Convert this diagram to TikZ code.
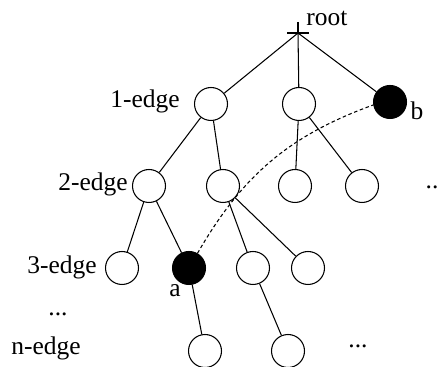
\documentclass[tikz,border=0pt]{standalone}
\usepackage{fontspec}
\setmainfont{Liberation Serif}

\begin{document}
\begin{tikzpicture}[x=0.02cm, y=-0.02cm, line width=0.6pt,
  vertex/.style={circle, draw, minimum size=0.66cm, inner sep=0pt},
  marked/.style={vertex, fill=black},
  lbl/.style={font=\fontsize{14.5}{17}\selectfont, inner sep=0pt}]
\useasboundingbox (0,0) rectangle (439,367);
% root cross
\coordinate (root) at (298,33) ;
\coordinate (rootW) at (287,33) ;
\coordinate (rootE) at (309,33) ;
\coordinate (rootN) at (298,22) ;
\draw (rootW) -- (rootE) ;
\draw (rootN) -- (root) ;
\node[lbl] (rootlbl) at (327,18) {root};
%% level 1
\node[vertex] (l1a) at (211,104) {};
\node[vertex] (l1b) at (299,104) {};
\node[marked] (b) at (390,102) {};
\node[lbl] (blbl) at (417,111) {b};
%% level 2
\node[vertex] (l2a) at (149,186) {};
\node[vertex] (l2b) at (223,186) {};
\node[vertex] (l2c) at (295,186) {};
\node[vertex] (l2d) at (362,186) {};
\node[lbl] (dotsr) at (432,187) {..};
%% level 3
\node[vertex] (l3a) at (122,268) {};
\node[marked] (a) at (189,268) {};
\node[lbl] (albl) at (175,291) {a};
\node[vertex] (l3c) at (253,268) {};
\node[vertex] (l3d) at (308,268) {};
%% level n
\node[vertex] (n1) at (205,351) {};
\node[vertex] (n2) at (288,351) {};
\node[lbl] (dotsn) at (358,346) {...};
%% row labels
\node[lbl] (e1) at (145,101) {1-edge};
\node[lbl] (e2) at (93,184) {2-edge};
\node[lbl] (e3) at (62,267) {3-edge};
\node[lbl] (edots) at (58,314) {...};
\node[lbl] (en) at (46,348) {n-edge};
%% edges
\draw (root) -- (l1a) ;
\draw (root) -- (l1b) ;
\draw (root) -- (b) ;
\draw (l1a) -- (l2a) ;
\draw (l1a) -- (l2b) ;
\draw (l1b) -- (l2c) ;
\draw (l1b) -- (l2d) ;
\draw (l2a) -- (l3a) ;
\draw (l2a) -- (a) ;
\draw (l2b) -- (l3c) ;
\draw (l2b) -- (l3d) ;
\draw (a) -- (n1) ;
\draw (l3c) -- (n2) ;
\draw[dashed, dash pattern=on 2pt off 1.5pt] (a.60) to[out=60, in=200] (b.190) ;
\end{tikzpicture}
\end{document}
